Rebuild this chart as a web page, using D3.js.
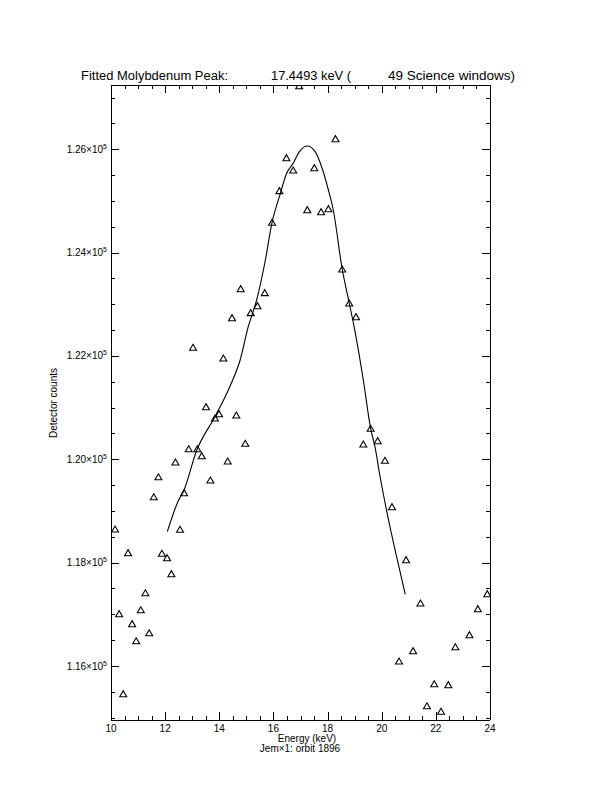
<!DOCTYPE html>
<html>
<head>
<meta charset="utf-8">
<script src="https://cdn.jsdelivr.net/npm/d3@7"></script>
<style>
  html, body { margin: 0; padding: 0; background: #fff; }
  svg { display: block; }
  text { font-family: "Liberation Sans", "DejaVu Sans", sans-serif; fill: #000; }
</style>
</head>
<body>
<svg id="chart" width="612" height="792"></svg>
<script>
// ---- Data ----
const energy = [10.15, 10.30, 10.45, 10.63, 10.78, 10.93, 11.10, 11.27, 11.41, 11.58,
  11.75, 11.88, 12.07, 12.23, 12.38, 12.55, 12.70, 12.87, 13.03, 13.19,
  13.35, 13.51, 13.67, 13.84, 13.99, 14.15, 14.31, 14.47, 14.63, 14.79,
  14.96, 15.16, 15.41, 15.68, 15.95, 16.22, 16.48, 16.73, 16.95, 17.25,
  17.51, 17.76, 18.03, 18.29, 18.54, 18.80, 19.05, 19.32, 19.59, 19.85,
  20.12, 20.38, 20.64, 20.90, 21.16, 21.43, 21.67, 21.94, 22.19, 22.46,
  22.72, 23.24, 23.55, 23.90];
const counts = [118650, 117012, 115464, 118193, 116819, 116489, 117089, 117418, 116644, 119276,
  119663, 118181, 118096, 117786, 119948, 118646, 119354, 120205, 122168, 120205,
  120070, 121018, 119600, 120800, 120883, 121961, 119967, 122741, 120858, 123302,
  120310, 122838, 122973, 123225, 124587, 125199, 125837, 125599, 127230, 124831,
  125644, 124792, 124850, 126205, 123683, 123025, 122760, 120296, 120600, 120360,
  119981, 119083, 116097, 118057, 116296, 117219, 115231, 115657, 115123, 115638,
  116373, 116606, 117109, 117399];

const fitEnergy = [12.08, 12.50, 12.67, 13.17, 13.84, 14.40, 14.77, 15.07, 15.38, 15.68,
  15.95, 16.22, 16.49, 16.73, 16.96, 17.25, 17.54, 17.82, 18.03, 18.21,
  18.54, 18.80, 18.98, 19.32, 19.59, 19.75, 19.94, 20.24, 20.55, 20.87];
const fitCounts = [118599, 119213, 119373, 120180, 120825, 121420, 121922, 122567, 123083, 123794,
  124587, 125083, 125536, 125729, 125954, 126064, 125954, 125599, 125212, 124825,
  123683, 123025, 122567, 121535, 120600, 120244, 119663, 118858, 118115, 117387];

const xMajorTicks = [10, 12, 14, 16, 18, 20, 22, 24];
const xTickLabels = ["10", "12", "14", "16", "18", "20", "22", "24"];
const yMajorTicks = [116000, 118000, 120000, 122000, 124000, 126000];
const yTickMantissa = ["1.16", "1.18", "1.20", "1.22", "1.24", "1.26"];
const xDomain = [10, 24];
const yDomain = [114955, 127244];

// ---- Layout ----
const svg = d3.select("#chart");
const L = 111, R = 490, T = 85, B = 720;
const x = d3.scaleLinear().domain(xDomain).range([L, R]);
const y = d3.scaleLinear().domain(yDomain).range([B, T]);

const xMinor = d3.range(10, 24.001, 0.5).filter(v => !xMajorTicks.includes(v));
const yMinor = d3.range(115000, 127244, 500).filter(v => !yMajorTicks.includes(v));

const axes = svg.append("g").attr("shape-rendering", "crispEdges");

// Bottom axis (ticks inward)
axes.append("g").attr("transform", `translate(0,${B})`)
  .call(d3.axisBottom(x).tickValues(xMajorTicks).tickSize(-8).tickFormat(() => ""))
  .call(g => g.select(".domain").attr("d", `M${L},0H${R}`));
axes.append("g").attr("transform", `translate(0,${B})`)
  .call(d3.axisBottom(x).tickValues(xMinor).tickSize(-4).tickFormat(() => ""))
  .call(g => g.select(".domain").remove());
// Top axis
axes.append("g").attr("transform", `translate(0,${T})`)
  .call(d3.axisTop(x).tickValues(xMajorTicks).tickSize(-8).tickFormat(() => ""))
  .call(g => g.select(".domain").attr("d", `M${L},0H${R}`));
axes.append("g").attr("transform", `translate(0,${T})`)
  .call(d3.axisTop(x).tickValues(xMinor).tickSize(-4).tickFormat(() => ""))
  .call(g => g.select(".domain").remove());
// Left axis
axes.append("g").attr("transform", `translate(${L},0)`)
  .call(d3.axisLeft(y).tickValues(yMajorTicks).tickSize(-8).tickFormat(() => ""))
  .call(g => g.select(".domain").attr("d", `M0,${T}V${B}`));
axes.append("g").attr("transform", `translate(${L},0)`)
  .call(d3.axisLeft(y).tickValues(yMinor).tickSize(-4).tickFormat(() => ""))
  .call(g => g.select(".domain").remove());
// Right axis
axes.append("g").attr("transform", `translate(${R},0)`)
  .call(d3.axisRight(y).tickValues(yMajorTicks).tickSize(-8).tickFormat(() => ""))
  .call(g => g.select(".domain").attr("d", `M0,${T}V${B}`));
axes.append("g").attr("transform", `translate(${R},0)`)
  .call(d3.axisRight(y).tickValues(yMinor).tickSize(-4).tickFormat(() => ""))
  .call(g => g.select(".domain").remove());
axes.selectAll("line, path").attr("stroke", "#000").attr("stroke-width", 1);

// X tick labels
svg.append("g").selectAll("text").data(xMajorTicks).join("text")
  .attr("x", d => x(d)).attr("y", 731.5)
  .attr("text-anchor", "middle").attr("font-size", 10)
  .text((d, i) => xTickLabels[i]);

// Y tick labels: mantissa×10^5
const yl = svg.append("g").selectAll("text").data(yMajorTicks).join("text")
  .attr("x", 107).attr("y", d => y(d) + 3.5)
  .attr("text-anchor", "end").attr("font-size", 10);
yl.append("tspan").text((d, i) => yTickMantissa[i] + "×10");
yl.append("tspan").attr("dy", -4).attr("font-size", 7).text("5");

// Axis titles
svg.append("text").attr("x", 307).attr("y", 742).attr("text-anchor", "middle")
  .attr("font-size", 10).text("Energy (keV)");
svg.append("text").attr("x", 300).attr("y", 752).attr("text-anchor", "middle")
  .attr("font-size", 10).text("Jem×1: orbit 1896");
svg.append("text").attr("transform", "translate(57,403) rotate(-90)")
  .attr("text-anchor", "middle").attr("font-size", 10).text("Detector counts");

// Title
svg.append("text").attr("x", 81).attr("y", 80).attr("font-size", 12.5)
  .attr("textLength", 147).attr("lengthAdjust", "spacingAndGlyphs").text("Fitted Molybdenum Peak:");
svg.append("text").attr("x", 271).attr("y", 80).attr("font-size", 12.5)
  .attr("textLength", 80).attr("lengthAdjust", "spacingAndGlyphs").text("17.4493 keV (");
svg.append("text").attr("x", 388).attr("y", 80).attr("font-size", 12.5)
  .attr("textLength", 127).attr("lengthAdjust", "spacingAndGlyphs").text("49 Science windows)");

// Clip for data
svg.append("clipPath").attr("id", "plotclip").append("rect")
  .attr("x", L).attr("y", T).attr("width", R - L).attr("height", B - T);

// Fitted curve
const fit = fitEnergy.map((e, i) => [e, fitCounts[i]]);
svg.append("path").datum(fit)
  .attr("clip-path", "url(#plotclip)")
  .attr("fill", "none").attr("stroke", "#000").attr("stroke-width", 1.1)
  .attr("d", d3.line().x(d => x(d[0])).y(d => y(d[1])).curve(d3.curveMonotoneX));

// Data points: triangles
const pts = energy.map((e, i) => [e, counts[i]]);
svg.append("g").attr("clip-path", "url(#plotclip)")
  .selectAll("path").data(pts).join("path")
  .attr("transform", d => `translate(${x(d[0])},${y(d[1])})`)
  .attr("d", "M-3.5,3L0,-3L3.5,3Z")
  .attr("fill", "none").attr("stroke", "#000").attr("stroke-width", 1.1);
</script>
</body>
</html>
